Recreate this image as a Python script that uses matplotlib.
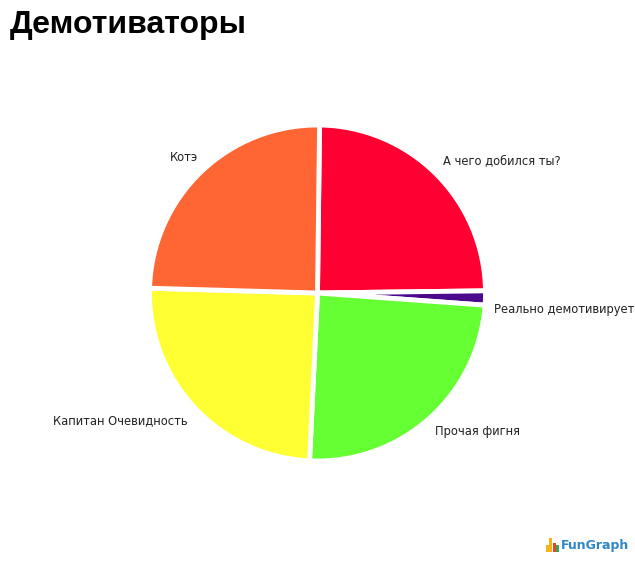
import matplotlib
matplotlib.use("Agg")
import matplotlib.pyplot as plt

labels = ["А чего добился ты?", "Реально демотивирует", "Прочая фигня", "Капитан Очевидность", "Котэ"]
values = [24.6, 1.36, 24.6, 24.7, 24.74]
colors = ["#FF0033", "#4B0A8C", "#66FF33", "#FFFF33", "#FF6633"]
title = "Демотиваторы"
label_pos = [(443, 160.5), (494, 310), (435, 432), (53, 420.5), (170, 157.5)]
logo_bars = [6, 13, 8, 6]
logo_cols = ["#F4B31A", "#F4B31A", "#E8452C", "#3AA655"]

W, H = 635, 561
fig = plt.figure(figsize=(W / 100, H / 100), dpi=100, facecolor="white")
cx, cy, r = 317.5, 293, 168
ax = fig.add_axes([(cx - r) / W, 1 - (cy + r) / H, 2 * r / W, 2 * r / H])
ax.pie(values, colors=colors, startangle=89.3, counterclock=False, radius=1,
       wedgeprops=dict(edgecolor="white", linewidth=3.5))
ax.set_xlim(-1, 1)
ax.set_ylim(-1, 1)
for c in ax.patches:
    c.set_clip_on(False)

fig.text(10 / W, 1 - 25 / H, title, fontsize=23, fontweight="bold", family="Liberation Sans",
         va="center", ha="left", color="black")
for t, (x, y) in zip(labels, label_pos):
    fig.text(x / W, 1 - y / H, t, fontsize=8.3, family="DejaVu Sans", va="center", ha="left", color="#222222")

lax = fig.add_axes([545 / W, 1 - 552 / H, 15 / W, 15 / H])
lax.bar(range(len(logo_bars)), logo_bars, color=logo_cols, width=0.95)
lax.axis("off")
fig.text(561 / W, 1 - 545.5 / H, "FunGraph", fontsize=9, fontweight="bold", family="DejaVu Sans",
         color="#2F86C8", va="center", ha="left")

fig.savefig("out.png", dpi=100, facecolor="white")
